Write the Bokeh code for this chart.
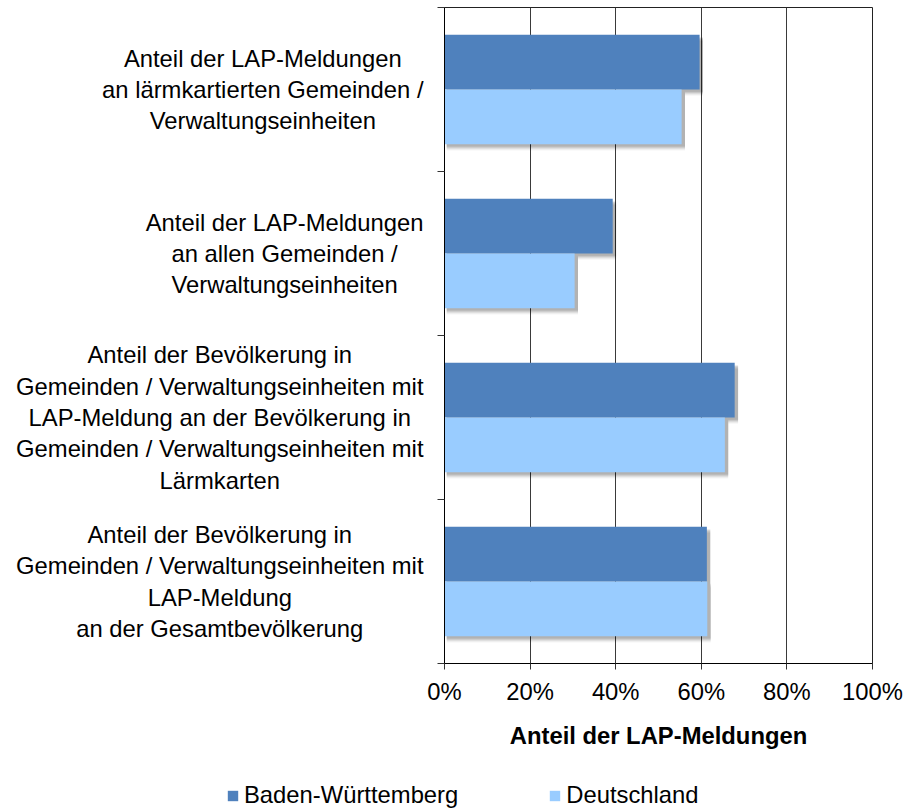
from bokeh.plotting import figure
from bokeh.layouts import row, column
from bokeh.models import (ColumnDataSource, Range1d, FixedTicker, PrintfTickFormatter,
                          CustomJSTickFormatter, Legend, LegendItem)
from bokeh.core.properties import value
from bokeh.transform import dodge
from bokeh.embed import file_html
from bokeh.resources import INLINE

categories = [
    "Anteil der LAP-Meldungen\nan lärmkartierten Gemeinden /\nVerwaltungseinheiten",
    "Anteil der LAP-Meldungen\nan allen Gemeinden /\nVerwaltungseinheiten",
    "Anteil der Bevölkerung in\nGemeinden / Verwaltungseinheiten mit\nLAP-Meldung an der Bevölkerung in\nGemeinden / Verwaltungseinheiten mit\nLärmkarten",
    "Anteil der Bevölkerung in\nGemeinden / Verwaltungseinheiten mit\nLAP-Meldung\nan der Gesamtbevölkerung",
]
baden_wuerttemberg = [59.6, 39.3, 67.8, 61.3]
deutschland = [55.4, 30.4, 65.5, 61.4]
x_ticks = [0, 20, 40, 60, 80, 100]
series_names = ["Baden-Württemberg", "Deutschland"]

FONT = "Liberation Sans"
FS = "23.8px"
C_BW = "#4F81BD"
C_DE = "#99CCFF"

LEFT_W = 424
TOP_H = 769
BORDER_TOP = 7
BORDER_BOTTOM = 106

n = len(categories)
pos = [n - 0.5 - i for i in range(n)]
src = ColumnDataSource(dict(pos=pos, bw=baden_wuerttemberg, de=deutschland,
                            bw_s=[v + 0.8 for v in baden_wuerttemberg],
                            de_s=[v + 0.8 for v in deutschland]))

y_range = Range1d(0, n)

# ---- main chart ----
p = figure(width=905 - LEFT_W, height=TOP_H, output_backend="svg", toolbar_location=None,
           x_range=Range1d(0, 100), y_range=y_range,
           min_border_left=20, min_border_right=33, min_border_top=BORDER_TOP,
           min_border_bottom=BORDER_BOTTOM, tools="")
p.background_fill_color = "white"
p.border_fill_color = "white"
p.outline_line_color = "#222222"
p.outline_line_width = 1

# soft drop shadows
for k, a in [(0.014, 0.09), (0.020, 0.09), (0.026, 0.07), (0.032, 0.05), (0.038, 0.04)]:
    p.hbar(y=dodge("pos", 1/6 - k, range=y_range), left=0.5, right="bw_s", height=1/3,
           source=src, fill_color="black", fill_alpha=a, line_color=None)
    p.hbar(y=dodge("pos", -1/6 - k, range=y_range), left=0.5, right="de_s", height=1/3,
           source=src, fill_color="black", fill_alpha=a, line_color=None)

r_bw = p.hbar(y=dodge("pos", 1/6, range=y_range), left=0, right="bw", height=1/3,
              source=src, fill_color=C_BW, line_color=None)
r_de = p.hbar(y=dodge("pos", -1/6, range=y_range), left=0, right="de", height=1/3,
              source=src, fill_color=C_DE, line_color=None)

p.xaxis.ticker = FixedTicker(ticks=x_ticks)
p.xaxis.formatter = PrintfTickFormatter(format="%d%%")
p.xaxis.major_label_text_font = FONT
p.xaxis.major_label_text_font_size = FS
p.xaxis.major_label_text_color = "black"
p.xaxis.major_label_standoff = 8
p.xaxis.major_tick_out = 6
p.xaxis.major_tick_in = 0
p.xaxis.minor_tick_line_color = None
p.xaxis.axis_line_color = "black"
p.xaxis.major_tick_line_color = "#333333"
p.xaxis.axis_label = "Anteil der LAP-Meldungen"
p.xaxis.axis_label_text_font = FONT
p.xaxis.axis_label_text_font_size = FS
p.xaxis.axis_label_text_font_style = "bold"
p.xaxis.axis_label_text_color = "black"
p.xaxis.axis_label_standoff = 14

p.yaxis.ticker = FixedTicker(ticks=list(range(n + 1)))
p.yaxis.formatter = CustomJSTickFormatter(code="return ''")
p.yaxis.major_tick_out = 7
p.yaxis.major_tick_in = 0
p.yaxis.minor_tick_line_color = None
p.yaxis.axis_line_color = "black"
p.yaxis.major_tick_line_color = "#333333"

p.xgrid.ticker = FixedTicker(ticks=x_ticks)
p.xgrid.grid_line_color = "#3a3a3a"
p.ygrid.grid_line_color = None

# ---- category labels (left panel) ----
pl = figure(width=LEFT_W, height=TOP_H, output_backend="svg", toolbar_location=None,
            x_range=Range1d(0, LEFT_W), y_range=y_range, tools="",
            min_border_left=0, min_border_right=0, min_border_top=BORDER_TOP,
            min_border_bottom=BORDER_BOTTOM)
pl.axis.visible = False
pl.grid.visible = False
pl.outline_line_color = None
pl.text(x=[LEFT_W - 1] * n, y=pos, text=categories, anchor="center_right",
        text_align="center", text_baseline="middle",
        text_font=value(FONT), text_font_size=FS, text_color="black",
        text_line_height=1.16)

# ---- legend strip ----
pg = figure(width=905, height=809 - TOP_H, output_backend="svg", toolbar_location=None,
            x_range=Range1d(0, 1), y_range=Range1d(0, 1), tools="",
            min_border_left=0, min_border_right=0, min_border_top=0, min_border_bottom=0)
pg.xaxis.visible = False
pg.yaxis.visible = False
pg.xgrid.visible = False
pg.ygrid.visible = False
pg.outline_line_color = None
pg.background_fill_color = "white"
pg.border_fill_color = "white"
# legend swatches: renderers whose data lie entirely outside the visible strip
g_bw = pg.hbar(y=[50], left=[10], right=[11], height=0.5, fill_color=C_BW, line_color=None)
g_de = pg.hbar(y=[50], left=[10], right=[11], height=0.5, fill_color=C_DE, line_color=None)
legend = Legend(items=[LegendItem(label=series_names[0], renderers=[g_bw]),
                       LegendItem(label=series_names[1], renderers=[g_de])],
                orientation="horizontal", location=(226, 0),
                glyph_width=13, glyph_height=13, label_standoff=5, spacing=90,
                padding=0, margin=0, border_line_color=None,
                background_fill_color=None,
                label_text_font=FONT, label_text_font_size=FS, label_text_color="black")
pg.add_layout(legend)

layout = column(row(pl, p), pg)
open("out.html", "w").write(file_html(layout, INLINE))
